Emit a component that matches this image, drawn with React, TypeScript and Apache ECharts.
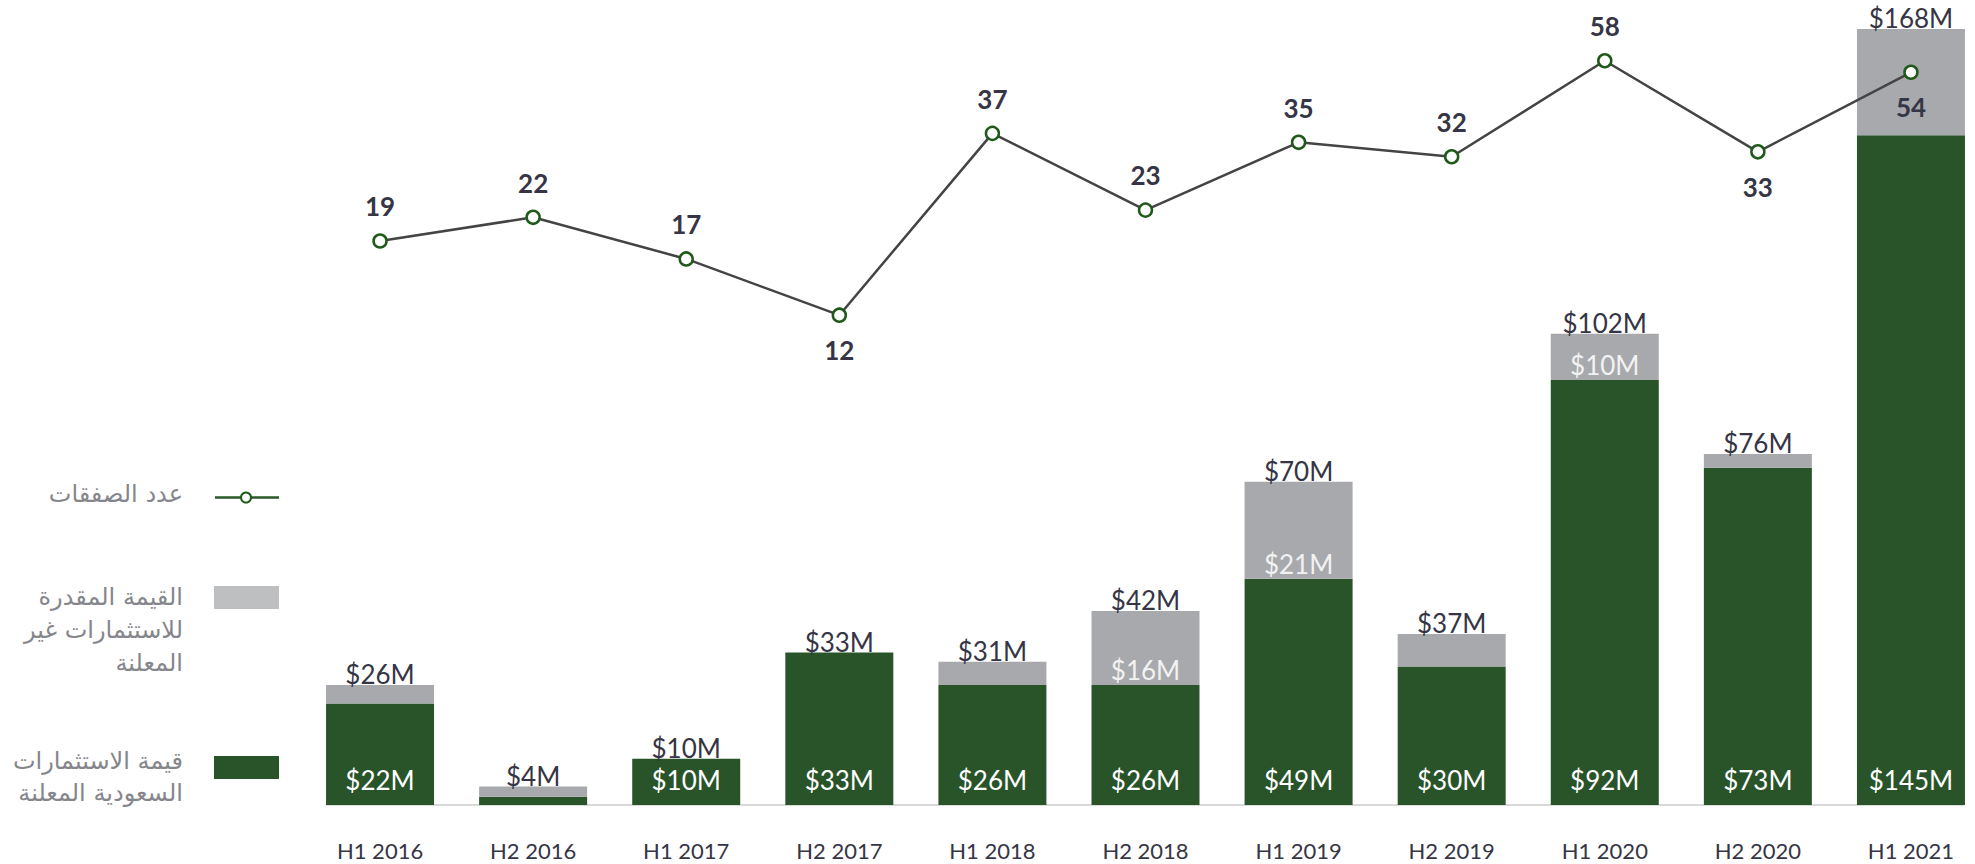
import React, { useEffect, useRef } from "react";
import * as echarts from "echarts";

const categories = ["H1 2016", "H2 2016", "H1 2017", "H2 2017", "H1 2018", "H2 2018", "H1 2019", "H2 2019", "H1 2020", "H2 2020", "H1 2021"];
const disclosed = [22, 1.8, 10, 33, 26, 26, 49, 30, 92, 73, 145];
const undisclosed = [4, 2.2, 0, 0, 5, 16, 21, 7, 10, 3, 23];
const totals = [26, 4, 10, 33, 31, 42, 70, 37, 102, 76, 168];
const deals = [19, 22, 17, 12, 37, 23, 35, 32, 58, 33, 54];
const disclosedLabelShown = [true, false, true, true, true, true, true, true, true, true, true];
const undisclosedLabelShown = [false, false, false, false, false, true, true, false, true, false, false];
const dealLabelPos = ["top", "top", "top", "bottom", "top", "top", "top", "top", "top", "bottom", "bottom"];
const seriesNames = ["عدد الصفقات", "القيمة المقدرة\nللاستثمارات غير\nالمعلنة", "قيمة الاستثمارات\nالسعودية المعلنة"];

const GREEN = "#29542a";
const GRAY = "#a8a9ac";
const DARK = "#353545";
const LATO = "Lato, 'Noto Sans', sans-serif";
const AR = "'DejaVu Sans', 'Noto Sans', sans-serif";
const LEG = "#85868c";

export default function App() {
  const ref = useRef<HTMLDivElement>(null);
  useEffect(() => {
    if (!ref.current) return;
    const chart = echarts.init(ref.current, null, { renderer: "svg" });
    const option: any = {
      animation: false,
      backgroundColor: "#ffffff",
      grid: { left: 303.5, width: 1684, top: 29, bottom: 59, containLabel: false },
      xAxis: {
        type: "category",
        data: categories,
        axisLine: { show: false },
        axisTick: { show: false },
        axisLabel: { color: DARK, fontFamily: LATO, fontSize: 22, margin: 34 },
      },
      yAxis: [
        { type: "value", min: 0, max: 168, show: false },
        { type: "log", min: 0.578, max: 70.6, show: false },
      ],
      series: [
        {
          name: seriesNames[2],
          type: "bar",
          stack: "v",
          barWidth: 108,
          data: disclosed.map((v, i) => ({
            value: v,
            label: { show: disclosedLabelShown[i] },
          })),
          itemStyle: { color: GREEN },
          label: {
            position: "insideBottom",
            distance: 12,
            color: "#ffffff",
            fontFamily: LATO,
            fontSize: 26,
            formatter: (p: any) => "$" + p.value + "M",
          },
        },
        {
          name: seriesNames[1],
          type: "bar",
          stack: "v",
          barWidth: 108,
          data: undisclosed.map((v, i) => ({
            value: v,
            label: { show: undisclosedLabelShown[i] },
          })),
          itemStyle: { color: GRAY },
          label: {
            position: "insideBottom",
            distance: 2,
            color: "#f2f2f2",
            fontFamily: LATO,
            fontSize: 26,
            formatter: (p: any) => "$" + p.value + "M",
          },
        },
        {
          name: "total",
          type: "bar",
          stack: "v",
          barWidth: 108,
          data: totals.map(() => 0),
          itemStyle: { color: "transparent" },
          label: {
            show: true,
            position: "top",
            distance: -2,
            color: DARK,
            fontFamily: LATO,
            fontSize: 26,
            formatter: (p: any) => "$" + totals[p.dataIndex] + "M",
          },
          z: 3,
        },
        {
          name: seriesNames[0],
          type: "line",
          yAxisIndex: 1,
          data: deals.map((v, i) => ({
            value: v,
            label: { position: dealLabelPos[i] },
          })),
          symbol: "circle",
          symbolSize: 13,
          itemStyle: { color: "#ffffff", borderColor: "#1f5a1a", borderWidth: 2.5 },
          lineStyle: { color: "#444444", width: 2.5 },
          label: {
            show: true,
            distance: 14,
            color: DARK,
            fontFamily: LATO,
            fontWeight: "bold",
            fontSize: 26,
          },
          z: 5,
        },
      ],
      graphic: [
        { type: "line", shape: { x1: 326, y1: 805, x2: 1964, y2: 805 }, style: { stroke: "#d9d9d9", lineWidth: 2 }, z: 1 },
        { type: "line", shape: { x1: 215, y1: 497.5, x2: 279, y2: 497.5 }, style: { stroke: "#2a5a2a", lineWidth: 2.5 } },
        { type: "circle", shape: { cx: 246, cy: 497.5, r: 5 }, style: { fill: "#ffffff", stroke: "#1f5a1a", lineWidth: 2 } },
        { type: "text", x: 183, y: 494, style: { text: seriesNames[0], textAlign: "right", textVerticalAlign: "middle", fontSize: 24, fontFamily: AR, fill: LEG } },
        { type: "rect", shape: { x: 214, y: 586, width: 65, height: 23 }, style: { fill: "#bebfc1" } },
        { type: "text", x: 183, y: 580, style: { text: seriesNames[1], textAlign: "right", textVerticalAlign: "top", fontSize: 24, lineHeight: 33, fontFamily: AR, fill: LEG } },
        { type: "rect", shape: { x: 214, y: 756, width: 65, height: 23 }, style: { fill: GREEN } },
        { type: "text", x: 183, y: 745, style: { text: seriesNames[2], textAlign: "right", textVerticalAlign: "top", fontSize: 24, lineHeight: 32, fontFamily: AR, fill: LEG } },
      ],
    };
    chart.setOption(option);
    return () => chart.dispose();
  }, []);
  return <div ref={ref} style={{ position: "fixed", left: 0, top: 0, width: 1990, height: 864 }} />;
}
